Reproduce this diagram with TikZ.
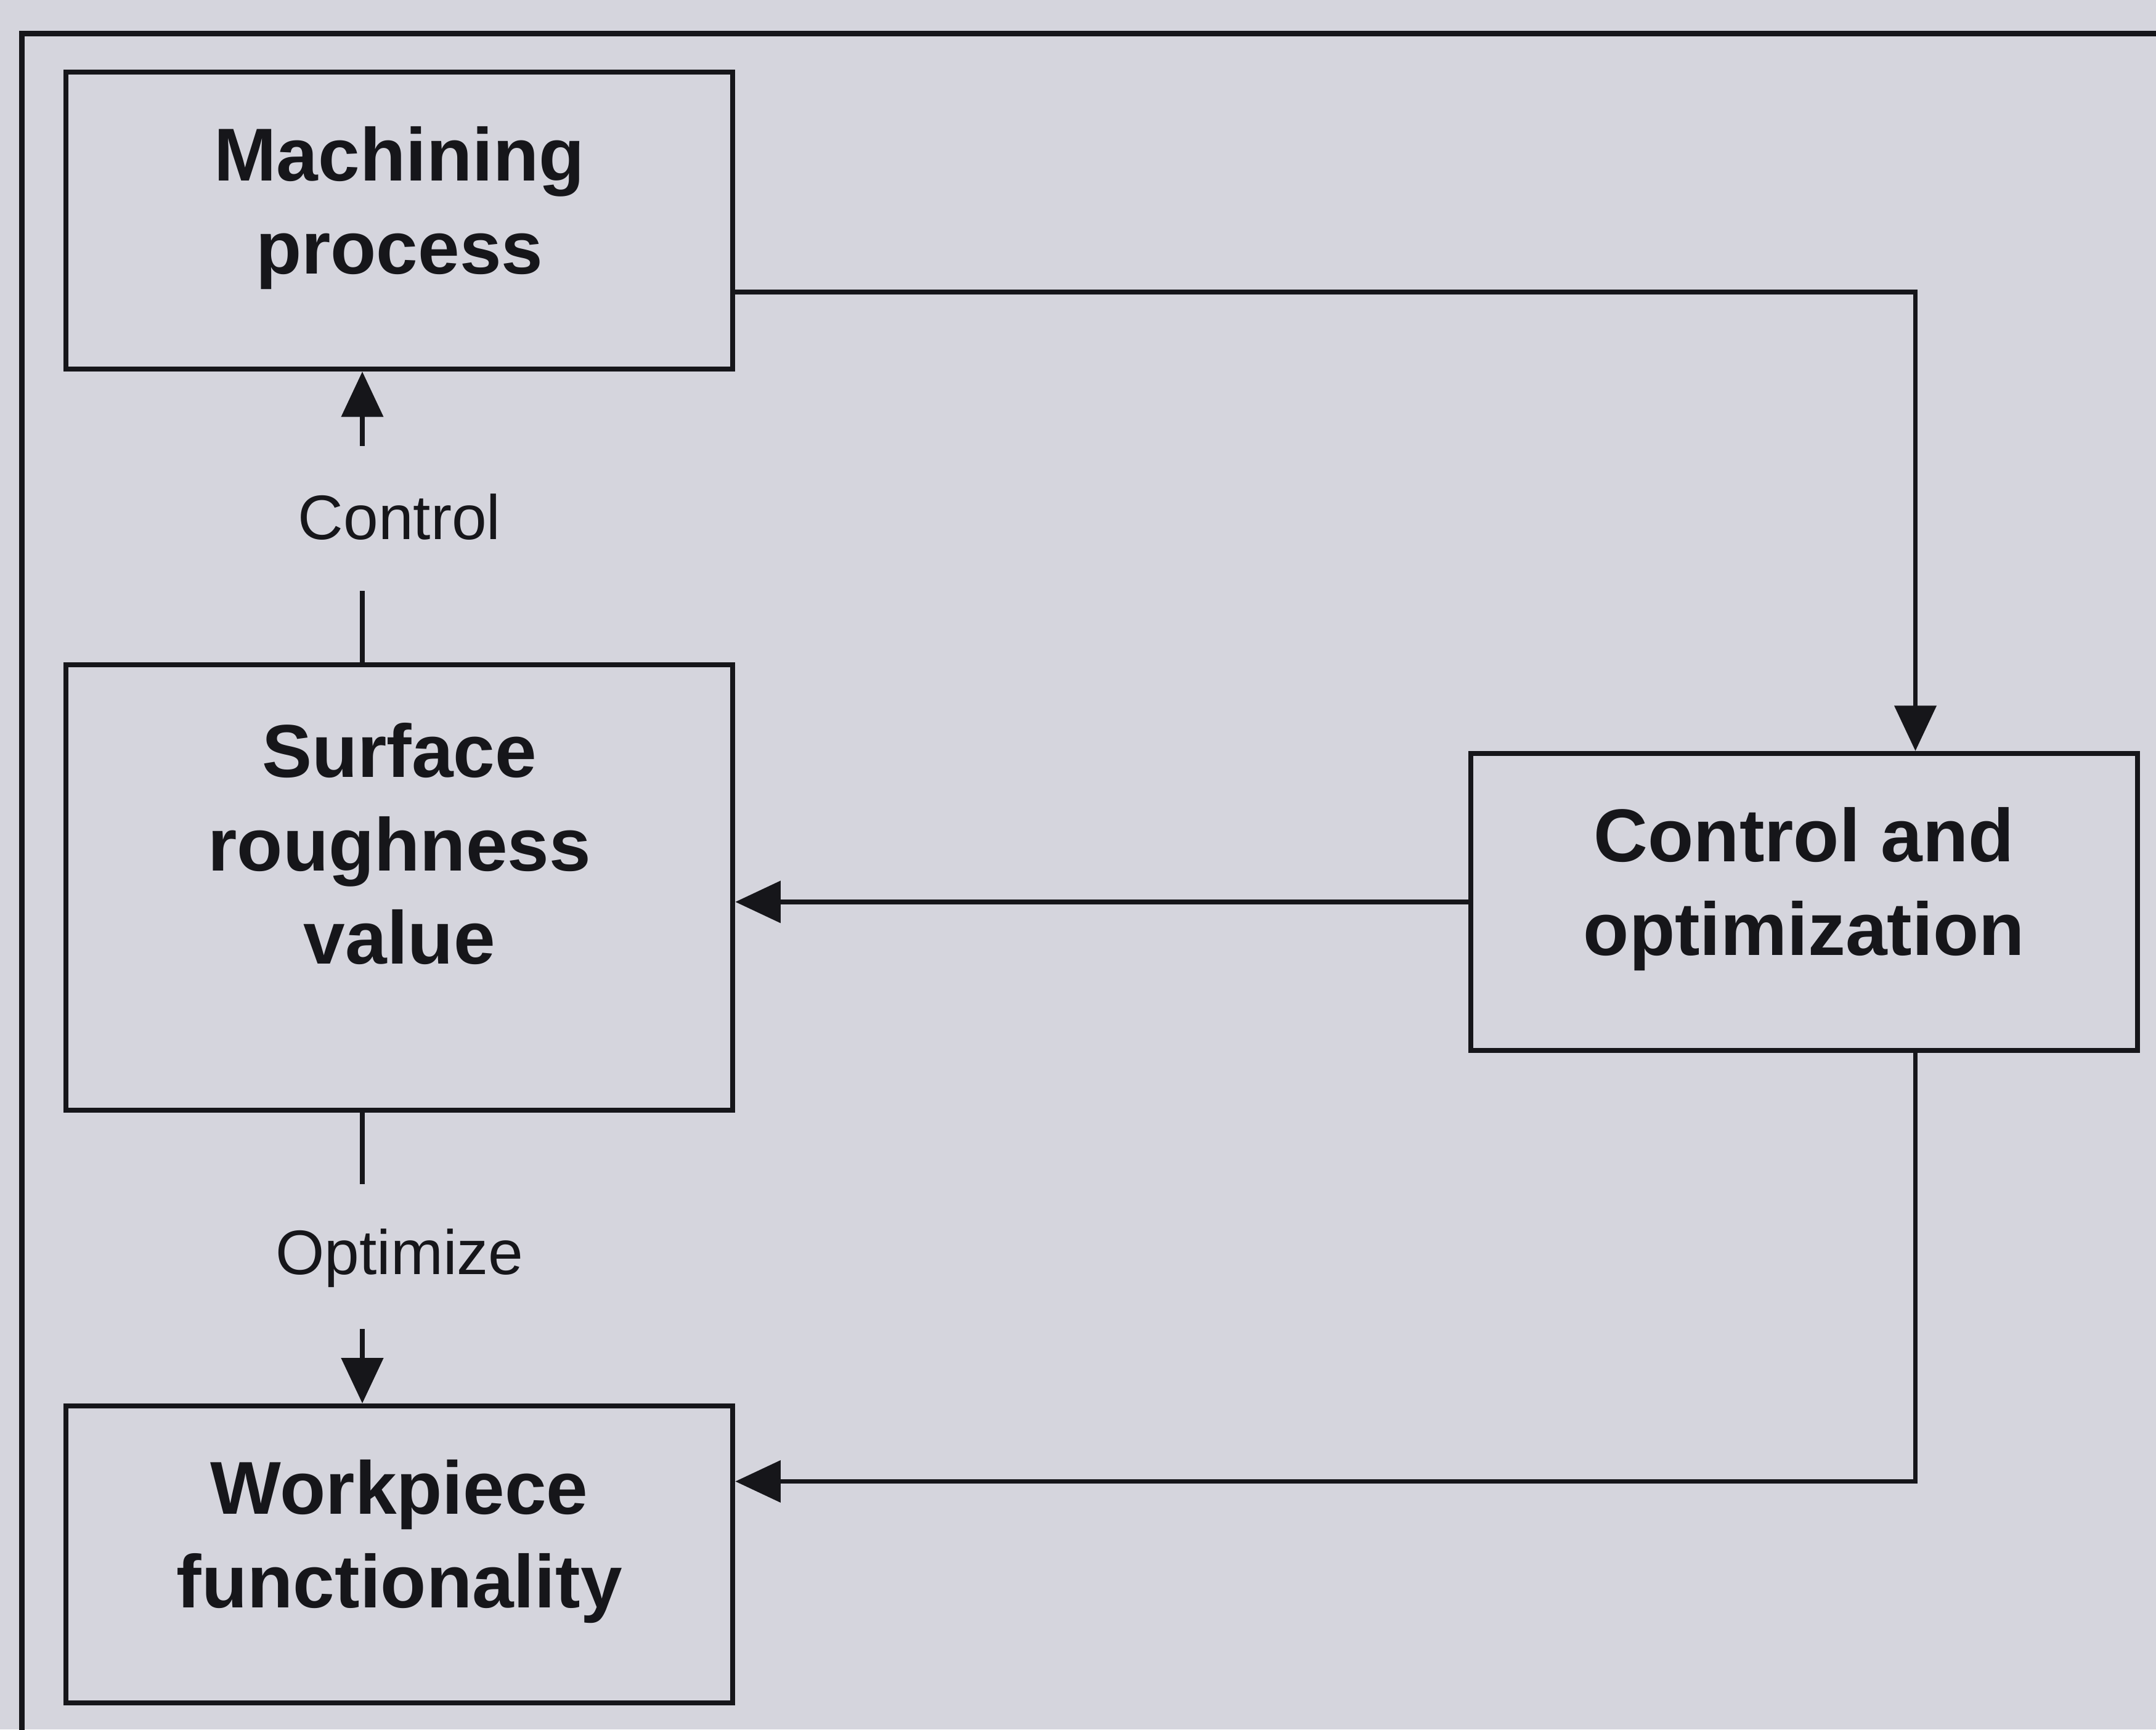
\documentclass[tikz,border=0pt]{standalone}
\usepackage{fontspec}
\setmainfont{Liberation Sans}
\usepackage{tikz}
\usetikzlibrary{arrows.meta, positioning, calc}
\definecolor{scanbg}{RGB}{213,213,221}
\definecolor{inkblack}{RGB}{22,22,26}

\begin{document}
\begin{tikzpicture}[node distance=4.85cm, color=inkblack]
    % Styles
    \tikzstyle{block} = [rectangle, draw, line width=1pt, text centered, align=center, minimum height=2.16cm, minimum width=4.85cm, inner sep=0pt, text depth=0.3cm, font=\fontsize{15.5}{19.3}\selectfont\bfseries]
    \tikzstyle{arrow} = [line width=1pt, -{Triangle[length=3.3mm, width=3mm]}]
    \tikzstyle{tag} = [inner sep=0pt, font=\fontsize{13}{15}\selectfont]

    % Page and frame
    \useasboundingbox (0,0) rectangle (15.68,-12.58);
    \fill [scanbg] (0,0) rectangle (15.68,-12.58);
    \draw [line width=1.1pt] (0.16,-13) |- (16,-0.245);

    % Nodes
    \node [block] (mach) at (2.905,-1.605) {Machining\\process};
    \node [block, minimum height=3.24cm, text depth=0.64cm, below of=mach] (surf) {Surface\\roughness\\value};
    \node [block, below of=surf] (work) {Workpiece\\functionality};
    \node [block, right of=surf, xshift=5.365cm, yshift=-0.105cm] (ctrl) {Control and\\optimization};
    \node [tag] (ctllbl) at ($(mach.south)!0.5!(surf.north)$) {Control};
    \node [tag] (optlbl) at ($(surf.south)!0.5!(work.north)$) {Optimize};

    % Stub ends
    \coordinate (cu1) at ($(surf.north)+(-0.27,0)$);
    \coordinate (cu2) at ($(cu1)+(0,0.52)$);
    \coordinate (cu3) at ($(cu1 |- mach.south)+(0,-0.54)$);
    \coordinate (od1) at ($(surf.south)+(-0.27,0)$);
    \coordinate (od2) at ($(od1)+(0,-0.52)$);
    \coordinate (od3) at ($(od1 |- work.north)+(0,0.54)$);

    % Arrows
    \draw [line width=1pt] (cu1) -- (cu2);
    \draw [arrow] (cu3) -- (cu3 |- mach.south);
    \draw [line width=1pt] (od1) -- (od2);
    \draw [arrow] (od3) -- (od3 |- work.north);
    \draw [arrow] ($(mach.east)+(0,-0.52)$) -| ($(ctrl.north)+(0.81,0)$);
    \draw [arrow] (ctrl.west) -- (ctrl.west -| surf.east);
    \draw [arrow] ($(ctrl.south)+(0.81,0)$) |- ($(work.east)+(0,0.53)$);
\end{tikzpicture}
\end{document}
